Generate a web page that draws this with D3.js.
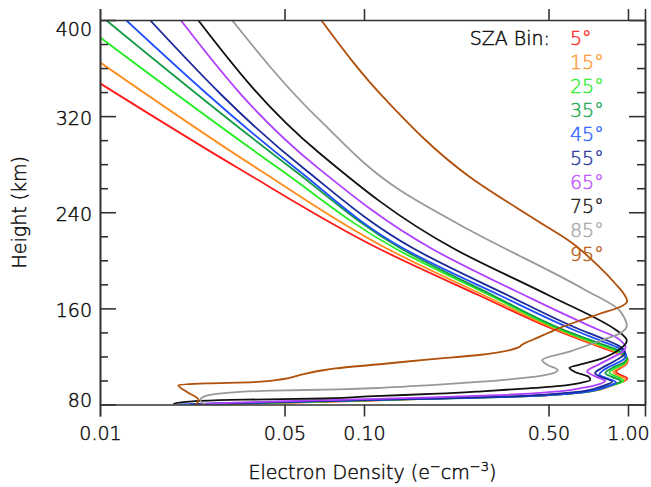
<!DOCTYPE html>
<html>
<head>
<meta charset="utf-8">
<script src="https://cdn.jsdelivr.net/npm/d3@7"></script>
<style>
  body { margin: 0; background: #fff; }
  svg text { font-family: "DejaVu Sans", sans-serif; font-weight: 200; fill: #0a0a0a; stroke: #0a0a0a; stroke-width: 0.45px; }
  .axis path, .axis line { stroke: #333; stroke-width: 1.6px; }
  .axis text { font-size: 19px; }
</style>
</head>
<body>
<div id="chart"></div>
<script>
// SZA bins and colours
var szaBins = [5, 15, 25, 35, 45, 55, 65, 75, 85, 95];
var binColors = ["#ff1a1a", "#ff8c1a", "#22ee22", "#119944", "#1f4fff", "#1a2a99", "#b040ff", "#111111", "#999999", "#b0500a"];
var labelColors = ["#ff2a2a", "#ff9a33", "#33ee33", "#22aa55", "#3366ff", "#2a3a9f", "#c055ff", "#222222", "#aaaaaa", "#b8601a"];

// [height km, electron density], top to bottom
var sza05 = [[347.3,0.01],[276,0.0338],[209.4,0.1146],[171.1,0.271],[142,0.531],[131.2,0.712],[123.7,0.885],[120.4,0.974],[117,0.998],[114,0.99],[110.5,0.94],[107.3,0.9],[104.5,0.94],[101.8,0.995],[99.5,0.97],[96.5,0.88],[93,0.8],[90.7,0.71],[88.5,0.56],[87,0.42],[85.3,0.22],[83.7,0.12],[82.2,0.07],[81,0.04],[80.3,0.027],[80,0.023]];
var sza15 = [[364.8,0.01],[276,0.0397],[209.4,0.123],[171.1,0.283],[142,0.5435],[131.5,0.72],[124,0.89],[120,0.97],[116.5,0.995],[113.5,0.98],[110,0.92],[107,0.88],[104,0.92],[101,0.98],[99,0.955],[96.5,0.87],[93,0.79],[90.7,0.7],[88.5,0.55],[87,0.41],[85.3,0.21],[83.7,0.115],[82.2,0.066],[81,0.039],[80.3,0.027],[80,0.024]];
var sza25 = [[385.6,0.01],[276,0.0479],[209.4,0.1325],[171.1,0.298],[142,0.558],[132,0.73],[125,0.895],[121,0.97],[118,0.993],[114.5,0.975],[110.5,0.9],[106.5,0.85],[103.5,0.9],[100,0.96],[98,0.93],[96,0.86],[93,0.78],[90.7,0.69],[88.5,0.54],[87,0.4],[85.3,0.2],[83.7,0.11],[82.2,0.062],[81,0.037],[80.3,0.027],[80,0.025]];
var sza35 = [[400,0.01053],[276,0.0536],[209.4,0.139],[171.1,0.306],[142,0.573],[132.5,0.745],[126,0.9],[122,0.97],[119,0.99],[115.5,0.97],[111,0.88],[106,0.82],[103,0.87],[99.5,0.94],[97.5,0.91],[95,0.84],[92,0.76],[90,0.67],[88,0.51],[86.5,0.38],[85,0.2],[83.5,0.1],[82,0.055],[81,0.035],[80.3,0.028],[80,0.026]];
var sza45 = [[400,0.01254],[276,0.0556],[209.4,0.1424],[171.1,0.325],[142,0.625],[133,0.79],[127,0.92],[123.5,0.97],[121,0.985],[117.5,0.96],[112,0.86],[108,0.8],[105,0.78],[101.5,0.84],[98.5,0.9],[96,0.86],[93,0.78],[90.5,0.69],[88,0.51],[86.5,0.37],[85,0.19],[83.5,0.09],[82,0.045],[81,0.028],[80.3,0.021],[80,0.02]];
var sza55 = [[400,0.01545],[276,0.0595],[209.4,0.1553],[171.1,0.349],[142,0.664],[134,0.82],[129,0.92],[126,0.96],[123.5,0.975],[120,0.95],[115,0.87],[110,0.79],[106,0.75],[102.5,0.8],[99,0.87],[96.5,0.83],[94,0.77],[91,0.67],[88.5,0.5],[86.5,0.34],[85,0.18],[83.5,0.09],[82,0.048],[81,0.03],[80.3,0.023],[80,0.022]];
var sza65 = [[400,0.0202],[278,0.066],[209.4,0.1815],[171.1,0.404],[142,0.777],[136,0.9],[131,0.96],[128,0.98],[124.5,0.96],[119,0.87],[113,0.77],[107.5,0.7],[103,0.76],[99.5,0.82],[97,0.78],[94,0.68],[91,0.55],[88,0.34],[86,0.18],[84.5,0.1],[83,0.055],[81.5,0.032],[80.5,0.025],[80,0.024]];
var sza75 = [[400,0.02352],[289.1,0.0679],[209.4,0.2202],[171.1,0.498],[142,0.901],[137,0.965],[133.5,0.99],[130,0.975],[126,0.93],[122,0.87],[118,0.79],[114,0.68],[110.5,0.6],[107,0.63],[103,0.71],[100.4,0.72],[98,0.66],[96,0.58],[93.5,0.42],[91,0.28],[89,0.19],[87,0.11],[85,0.07],[84,0.035],[83,0.024],[81.5,0.02],[80.3,0.019],[80,0.019]];
var sza85 = [[400,0.0316],[316.8,0.0679],[258.5,0.1365],[225.2,0.2509],[175.3,0.689],[158.6,0.926],[152,0.97],[146,0.99],[139,0.93],[133.7,0.8],[124,0.6],[117,0.473],[112.5,0.5],[108.7,0.542],[105.5,0.51],[102.5,0.42],[99,0.28],[96.2,0.18],[94,0.12],[92.6,0.08],[91.5,0.045],[89.3,0.029],[87,0.025],[84,0.024],[81,0.0245],[80,0.025]];
var sza95 = [[400,0.0688],[333.3,0.1213],[269.6,0.2509],[231.9,0.461],[214.2,0.616],[194.7,0.777],[180.3,0.898],[172,0.965],[166,0.993],[162,0.95],[155.3,0.777],[149.5,0.65],[143.4,0.547],[138,0.48],[133.7,0.434],[131.5,0.41],[130,0.398],[127.5,0.385],[121.2,0.273],[117.6,0.177],[113.5,0.1146],[110,0.078],[108.5,0.07],[104.5,0.057],[101,0.049],[98.6,0.038],[97.6,0.0253],[96.2,0.0198],[90,0.0215],[84,0.0236],[81.5,0.0234],[80,0.023]];
var profiles = [sza05, sza15, sza25, sza35, sza45, sza55, sza65, sza75, sza85, sza95];

var xTicks = [0.01, 0.05, 0.10, 0.50, 1.00];
var yTicks = [80, 160, 240, 320, 400];
var yMinor = [100, 120, 140, 180, 200, 220, 260, 280, 300, 340, 360, 380];

var w = 651, h = 487;
var margin = {top: 20, right: 6, bottom: 82.5, left: 100};
var plotW = w - margin.left - margin.right;
var plotH = h - margin.top - margin.bottom;

var svg = d3.select("#chart").append("svg")
    .attr("width", w)
    .attr("height", h);

var x = d3.scaleLog().domain([0.01, 1.16]).range([0, plotW]);
var y = d3.scaleLinear().domain([80, 400]).range([plotH, 0]);

var g = svg.append("g").attr("transform", "translate(" + margin.left + "," + margin.top + ")");

g.append("clipPath").attr("id", "clip")
  .append("rect").attr("width", plotW).attr("height", plotH);

var line = d3.line()
    .x(function(d) { return x(d[1]); })
    .y(function(d) { return y(d[0]); })
    .curve(d3.curveMonotoneY);

g.append("g").attr("clip-path", "url(#clip)")
  .selectAll("path")
  .data(profiles)
  .enter()
  .append("path")
    .attr("d", line)
    .attr("fill", "none")
    .attr("stroke", function(d, i) { return binColors[i]; })
    .attr("stroke-width", 1.8);

// axes
g.append("g").attr("class", "axis")
    .attr("transform", "translate(0," + plotH + ")")
    .call(d3.axisBottom(x).tickValues(xTicks).tickSize(12).tickPadding(10).tickFormat(d3.format(".2f")));
g.append("g").attr("class", "axis")
    .call(d3.axisTop(x).tickValues(xTicks).tickSize(11).tickFormat(""));

var yAxis = g.append("g").attr("class", "axis")
    .call(d3.axisLeft(y).tickValues(yTicks).tickSizeInner(-16).tickSizeOuter(0).tickPadding(8).tickFormat(d3.format("d")));
yAxis.selectAll("text").attr("dy", function(d) {
    if (d == 400) return "0.8em";
    if (d == 80) return "0.12em";
    return "0.42em";
});
g.append("g").attr("class", "axis")
    .call(d3.axisLeft(y).tickValues(yMinor).tickSizeInner(-8).tickSizeOuter(0).tickFormat(""));
g.append("g").attr("class", "axis")
    .attr("transform", "translate(" + plotW + ",0)")
    .call(d3.axisRight(y).tickValues(yTicks).tickSizeInner(-16).tickSizeOuter(0).tickFormat(""));
g.append("g").attr("class", "axis")
    .attr("transform", "translate(" + plotW + ",0)")
    .call(d3.axisRight(y).tickValues(yMinor).tickSizeInner(-8).tickSizeOuter(0).tickFormat(""));

// titles
var xt = svg.append("text")
    .attr("x", margin.left + plotW / 2)
    .attr("y", 479)
    .attr("text-anchor", "middle")
    .attr("font-size", "19px");
xt.append("tspan").text("Electron Density (e");
xt.append("tspan").attr("font-size", "13px").attr("dy", -8).text("\u2212");
xt.append("tspan").attr("dy", 8).text("cm");
xt.append("tspan").attr("font-size", "13px").attr("dy", -8).text("\u22123");
xt.append("tspan").attr("dy", 8).text(")");

svg.append("text")
    .attr("transform", "translate(26," + (margin.top + plotH / 2) + ") rotate(-90)")
    .attr("text-anchor", "middle")
    .attr("font-size", "19px")
    .text("Height (km)");

// legend
svg.append("text")
    .attr("x", 550).attr("y", 45)
    .attr("text-anchor", "end")
    .attr("font-size", "19px")
    .text("SZA Bin:");
svg.selectAll(".leg")
  .data(szaBins)
  .enter()
  .append("text")
    .attr("class", "leg")
    .attr("x", 570)
    .attr("y", function(d, i) { return 45 + i * 24; })
    .attr("font-size", "19px")
    .style("fill", function(d, i) { return labelColors[i]; })
    .style("stroke", function(d, i) { return labelColors[i]; })
    .text(function(d) { return d + "\u00b0"; });
</script>
</body>
</html>
